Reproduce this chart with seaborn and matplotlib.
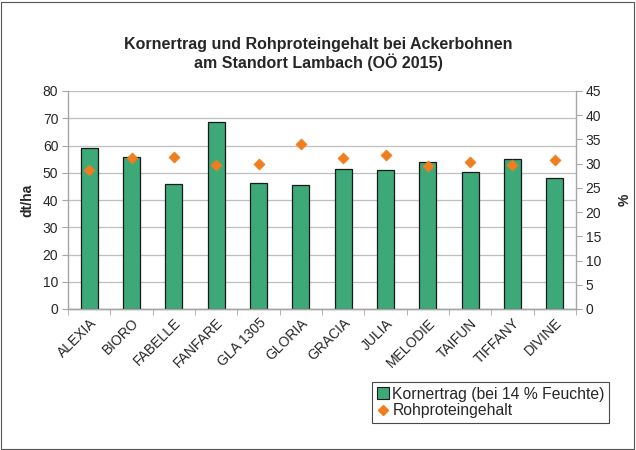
import pandas as pd
import matplotlib.pyplot as plt
import seaborn as sns
from matplotlib.patches import Rectangle
from matplotlib.lines import Line2D

# data
sorten = ["ALEXIA", "BIORO", "FABELLE", "FANFARE", "GLA 1305", "GLORIA",
          "GRACIA", "JULIA", "MELODIE", "TAIFUN", "TIFFANY", "DIVINE"]
kornertrag = [59.0, 55.7, 46.0, 68.8, 46.1, 45.5, 51.4, 50.9, 54.1, 50.3, 55.0, 47.9]
rohprotein = [28.7, 31.2, 31.4, 29.7, 29.9, 34.1, 31.2, 31.8, 29.6, 30.3, 29.7, 30.8]

df = pd.DataFrame({"Sorte": sorten, "Kornertrag": kornertrag, "Rohprotein": rohprotein})

sns.set_style("white")
plt.rcParams["font.family"] = ["Liberation Sans", "DejaVu Sans"]

green = "#3DA878"
orange = "#F07D1E"
grey = "#A6A6A6"

fig = plt.figure(figsize=(6.36, 4.5), dpi=100)
ax = fig.add_axes([68 / 636, 1 - 309 / 450, (576 - 68) / 636, (309 - 91) / 450])

sns.barplot(data=df, x="Sorte", y="Kornertrag", color=green, width=0.4,
            edgecolor="#1a1a1a", linewidth=0.9, saturation=1, ax=ax, zorder=3)
ax.set_ylim(0, 80)
ax.set_yticks(range(0, 81, 10))
ax.set_xlim(-0.5, len(sorten) - 0.5)
ax.yaxis.grid(True, color="#BFBFBF", linewidth=0.9, zorder=0)
ax.set_axisbelow(True)
ax.set_xlabel("")
ax.set_ylabel("dt/ha", fontsize=10, fontweight="bold", labelpad=6)

ax2 = ax.twinx()
sns.scatterplot(data=df, x="Sorte", y="Rohprotein", marker="D", color=orange,
                s=32, edgecolor=orange, ax=ax2, zorder=4)
ax2.set_ylim(0, 45)
ax2.set_yticks(range(0, 46, 5))
ax2.set_ylabel("%", fontsize=10, fontweight="bold", labelpad=12)
ax2.set_xlim(-0.5, len(sorten) - 0.5)

for a in (ax, ax2):
    a.spines["top"].set_visible(False)
    for side in ("left", "right", "bottom"):
        a.spines[side].set_color(grey)
        a.spines[side].set_linewidth(1)
    a.tick_params(axis="y", length=4, color=grey, labelsize=10, direction="out", pad=3)

ax.spines["right"].set_visible(False)
ax2.spines["left"].set_visible(False)
ax.tick_params(axis="y", left=True)
ax2.tick_params(axis="y", right=True)

# x ticks between categories
ax.set_xticks(range(len(sorten)))
ax.set_xticklabels(sorten, rotation=45, ha="right", rotation_mode="anchor", fontsize=10)
ax.tick_params(axis="x", length=0, pad=5)
ax.set_xticks([i - 0.5 for i in range(len(sorten) + 1)], minor=True)
ax.tick_params(axis="x", which="minor", length=4, color=grey, bottom=True)

fig.text(318 / 636, 1 - 44 / 450, "Kornertrag und Rohproteingehalt bei Ackerbohnen",
         ha="center", va="center", fontsize=11.5, fontweight="bold")
fig.text(318 / 636, 1 - 62 / 450, "am Standort Lambach (OÖ 2015)",
         ha="center", va="center", fontsize=11.5, fontweight="bold")

handles = [Rectangle((0, 0), 1, 1, facecolor=green, edgecolor="#1a1a1a", linewidth=0.8),
           Line2D([], [], marker="D", color=orange, linestyle="", markersize=5.5)]
leg = fig.legend(handles, ["Kornertrag (bei 14 % Feuchte)", "Rohproteingehalt"],
                 loc="upper left", bbox_to_anchor=(372 / 636, 1 - 382 / 450),
                 fontsize=11.3, frameon=True, fancybox=False, borderpad=0.3,
                 handlelength=0.8, handleheight=0.8, handletextpad=0.2,
                 labelspacing=0.1, borderaxespad=0)
leg.get_frame().set_edgecolor("#1a1a1a")
leg.get_frame().set_linewidth(0.8)

fig.patches.append(Rectangle((1 / 636, 1 / 450), 633 / 636, 447 / 450, transform=fig.transFigure,
                             fill=False, edgecolor="#555555", linewidth=0.8))

fig.savefig("out.png", dpi=100)
